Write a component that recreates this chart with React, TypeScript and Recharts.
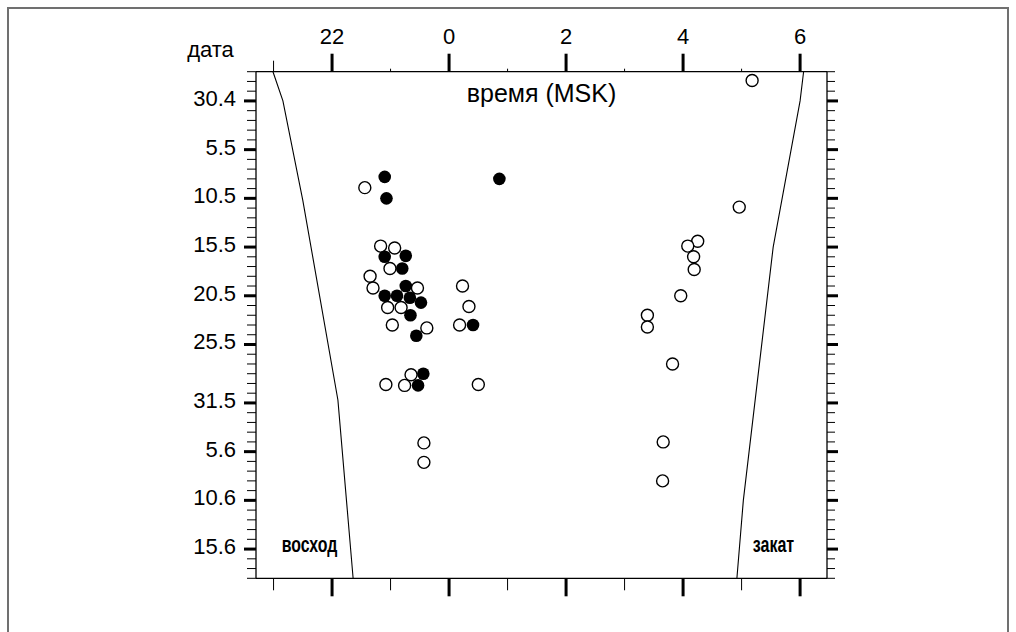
import React from "react";
import { ScatterChart, Scatter, XAxis, YAxis, Label } from "recharts";

// x = hour of night (24..30 means 0..6 MSK), y = days since 30 April
const hourTicks = [21, 22, 23, 24, 25, 26, 27, 28, 29, 30];
const majorHours = [22, 24, 26, 28, 30];
const hourLabels = ["22", "0", "2", "4", "6"];

const dayTicks = Array.from({ length: 53 }, (_, i) => i - 3);
const majorDays = [0, 5, 10, 15, 20, 25, 31, 36, 41, 46];
const dateLabels = ["30.4", "5.5", "10.5", "15.5", "20.5", "25.5", "31.5", "5.6", "10.6", "15.6"];

const filledPoints = [
  [22.9, 7.8], [22.93, 10], [24.86, 8], [22.9, 16], [23.26, 15.9], [23.2, 17.2],
  [23.26, 19], [22.9, 20], [23.11, 20], [23.33, 20.2], [23.52, 20.7], [23.34, 22],
  [24.41, 23], [23.44, 24.1], [23.56, 28], [23.47, 29.2],
];

const openPoints = [
  [22.56, 8.9], [22.83, 14.9], [23.07, 15.1], [22.99, 17.2], [22.65, 18], [22.7, 19.2],
  [23.46, 19.2], [24.23, 19], [22.95, 21.2], [23.18, 21.2], [24.34, 21.1], [23.03, 23],
  [24.18, 23], [23.62, 23.3], [23.35, 28.1], [22.92, 29.1], [23.24, 29.2], [24.5, 29.1],
  [23.57, 35.1], [23.57, 37.1],
  [29.18, -2.1], [28.96, 10.9], [28.25, 14.4], [28.08, 14.9], [28.18, 16], [28.19, 17.3],
  [27.96, 20], [27.39, 22], [27.39, 23.2], [27.82, 27], [27.66, 35], [27.65, 39],
];

const sunrise = [
  [20.99, -3], [21.16, 0], [21.5, 10.2], [22.1, 30.7], [22.36, 49],
];

const sunset = [
  [30.06, -3], [30.0, 0], [29.54, 15], [29.03, 41], [28.92, 49],
];

const toRows = (pts: number[][]) => pts.map(([h, d]) => ({ h, d }));

const FONT = "'Liberation Sans', Arial, sans-serif";

const TopTick = (p: any) => {
  const { x, y, payload } = p;
  const i = majorHours.indexOf(payload.value);
  const len = i >= 0 ? 18 : payload.value === 21 ? 11 : 3;
  return (
    <g>
      <line x1={x} x2={x} y1={y - len} y2={y} stroke="#000" strokeWidth={i >= 0 ? 3 : 1} />
      {i >= 0 && (
        <text x={x} y={y - 28} textAnchor="middle" fontSize={22} fill="#000" fontFamily={FONT}>
          {hourLabels[i]}
        </text>
      )}
    </g>
  );
};

const BottomTick = (p: any) => {
  const { x, y, payload } = p;
  const major = majorHours.includes(payload.value);
  return <line x1={x} x2={x} y1={y} y2={y + (major ? 18 : 12)} stroke="#000" strokeWidth={major ? 3 : 1} />;
};

const LeftTick = (p: any) => {
  const { x, y, payload } = p;
  const i = majorDays.indexOf(payload.value);
  return (
    <g>
      <line x1={x - (i >= 0 ? 12 : 9)} x2={x} y1={y} y2={y} stroke="#000" strokeWidth={i >= 0 ? 3 : 1} />
      {i >= 0 && (
        <text x={x - 20} y={y + 5} textAnchor="end" fontSize={22} fill="#000" fontFamily={FONT}>
          {dateLabels[i]}
        </text>
      )}
    </g>
  );
};

const RightTick = (p: any) => {
  const { x, y, payload } = p;
  const major = majorDays.includes(payload.value);
  return <line x1={x} x2={x + (major ? 11 : 8)} y1={y} y2={y} stroke="#000" strokeWidth={major ? 3 : 1} />;
};

const OpenDot = (p: any) => <circle cx={p.cx} cy={p.cy} r={6} fill="#fff" stroke="#000" strokeWidth={1.4} />;
const FilledDot = (p: any) => <circle cx={p.cx} cy={p.cy} r={6.3} fill="#000" />;
const NoDot = () => <g />;

const frame = { stroke: "#000", strokeWidth: 1.3 };

export default function App() {
  return (
    <div style={{ position: "absolute", left: 0, top: 0, width: 1016, height: 632, overflow: "hidden", background: "#fff", fontFamily: FONT }}>
      <div style={{ position: "absolute", left: 7, top: 7, width: 1002, height: 700, border: "2px solid #707070", boxSizing: "border-box" }} />
      <div style={{ position: "absolute", left: 0, top: 0 }}>
        <ScatterChart width={1016} height={632} margin={{ top: 21.7, right: 169, bottom: 23.7, left: 165 }}>
          <XAxis
            xAxisId="top"
            orientation="top"
            type="number"
            dataKey="h"
            domain={[20.7, 30.46]}
            allowDataOverflow
            ticks={hourTicks}
            interval={0}
            tickSize={0}
            tickMargin={0}
            tickLine={false}
            tick={TopTick}
            axisLine={frame}
            height={50}
          >
            <Label value="время (MSK)" position="bottom" offset={12.3} fontSize={25} fill="#000" fontFamily={FONT} />
          </XAxis>
          <XAxis
            xAxisId="bottom"
            orientation="bottom"
            type="number"
            dataKey="h"
            domain={[20.7, 30.46]}
            allowDataOverflow
            ticks={hourTicks}
            interval={0}
            tickSize={0}
            tickMargin={0}
            tickLine={false}
            tick={BottomTick}
            axisLine={frame}
            height={30}
          />
          <YAxis
            yAxisId="left"
            orientation="left"
            type="number"
            dataKey="d"
            reversed
            domain={[-3, 49]}
            allowDataOverflow
            ticks={dayTicks}
            interval={0}
            tickSize={0}
            tickMargin={0}
            tickLine={false}
            tick={LeftTick}
            axisLine={frame}
            width={91}
          >
            <Label value="дата" position="top" offset={15} fontSize={22} fill="#000" fontFamily={FONT} />
          </YAxis>
          <YAxis
            yAxisId="right"
            orientation="right"
            type="number"
            dataKey="d"
            reversed
            domain={[-3, 49]}
            allowDataOverflow
            ticks={dayTicks}
            interval={0}
            tickSize={0}
            tickMargin={0}
            tickLine={false}
            tick={RightTick}
            axisLine={frame}
            width={20}
          />
          <Scatter data={toRows(sunrise)} xAxisId="top" yAxisId="left" line={{ stroke: "#000", strokeWidth: 1.1 }} lineType="joint" shape={NoDot} isAnimationActive={false} />
          <Scatter data={toRows(sunset)} xAxisId="top" yAxisId="left" line={{ stroke: "#000", strokeWidth: 1.1 }} lineType="joint" shape={NoDot} isAnimationActive={false} />
          <Scatter data={toRows(openPoints)} xAxisId="top" yAxisId="left" shape={OpenDot} isAnimationActive={false} />
          <Scatter data={toRows(filledPoints)} xAxisId="top" yAxisId="left" shape={FilledDot} isAnimationActive={false} />
          <text x={281.7} y={551.5} fontSize={22} fontWeight="bold" fontFamily={FONT} fill="#000" textLength={55.6} lengthAdjust="spacingAndGlyphs">восход</text>
          <text x={752.7} y={551.5} fontSize={22} fontWeight="bold" fontFamily={FONT} fill="#000" textLength={41.5} lengthAdjust="spacingAndGlyphs">закат</text>
        </ScatterChart>
      </div>
    </div>
  );
}
